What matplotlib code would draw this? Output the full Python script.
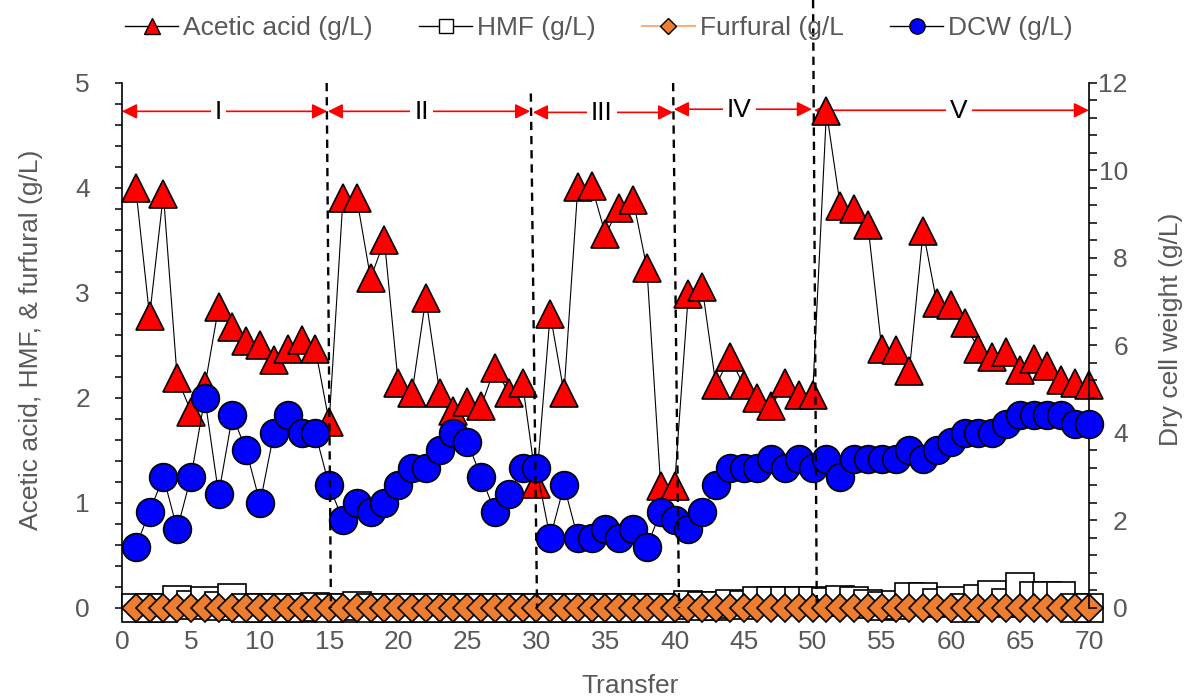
import matplotlib
matplotlib.use("Agg")
import matplotlib.pyplot as plt
from matplotlib.lines import Line2D
from matplotlib.ticker import MultipleLocator

plt.rcParams['font.family'] = ['Liberation Sans', 'DejaVu Sans']

# data, one value per transfer
transfer = list(range(1, 71))
acetic = [4.00, 2.78, 3.94, 2.19, 1.87, 2.11, 2.87, 2.68, 2.54, 2.50,
          2.36, 2.47, 2.55, 2.47, 1.77, 3.90, 3.90, 3.14, 3.50, 2.14,
          2.05, 2.95, 2.05, 1.88, 1.96, 1.92, 2.29, 2.05, 2.14, 1.18,
          2.80, 2.05, 4.01, 4.02, 3.56, 3.81, 3.89, 3.24, 1.16, 1.16,
          2.99, 3.06, 2.12, 2.39, 2.12, 2.00, 1.92, 2.14, 2.03, 2.03,
          4.73, 3.83, 3.80, 3.65, 2.47, 2.46, 2.26, 3.59, 2.90, 2.89,
          2.71, 2.47, 2.39, 2.44, 2.27, 2.37, 2.30, 2.17, 2.14, 2.12]
hmf = [0, 0, 0, 0.08, 0.03, 0.065, 0.02, 0.095, 0, 0,
       0, 0, 0, 0.01, 0, 0, 0.02, 0, 0, 0,
       0, 0, 0, 0, 0, 0, 0, 0, 0, 0,
       0, 0, 0, 0, 0, 0, 0, 0, 0, 0,
       0.025, 0.015, 0.02, 0.04, 0.03, 0.065, 0.065, 0.065, 0.065, 0.065,
       0.06, 0.08, 0.065, 0.04, 0.015, 0.03, 0.10, 0.10, 0.045, 0.065,
       0, 0.09, 0.12, 0.05, 0.20, 0.11, 0.11, 0.11, 0, 0]
furfural = [0] * 70
dcw = [1.4, 2.2, 3.0, 1.8, 3.0, 4.8, 2.6, 4.4, 3.6, 2.4,
       4.0, 4.4, 4.0, 4.0, 2.8, 2.0, 2.4, 2.2, 2.4, 2.8,
       3.2, 3.2, 3.6, 4.0, 3.8, 3.0, 2.2, 2.6, 3.2, 3.2,
       1.6, 2.8, 1.6, 1.6, 1.8, 1.6, 1.8, 1.4, 2.2, 2.0,
       1.8, 2.2, 2.8, 3.2, 3.2, 3.2, 3.4, 3.2, 3.4, 3.2,
       3.4, 3.0, 3.4, 3.4, 3.4, 3.4, 3.6, 3.4, 3.6, 3.8,
       4.0, 4.0, 4.0, 4.2, 4.4, 4.4, 4.4, 4.4, 4.2, 4.2]

# phases
phase_names = ['I', 'II', 'III', 'IV', 'V']
phase_start = [0, 14.9, 29.75, 39.95, 50.1]
phase_end = [14.85, 29.55, 39.9, 49.95, 70.0]
phase_y = [4.73, 4.73, 4.72, 4.75, 4.74]
phase_label_x = [7.0, 21.7, 34.75, 44.7, 60.6]
line_top_x = [14.82, 29.6, 39.9, 50.03]
line_bot_x = [15.13, 30.05, 40.33, 50.3]
line_top_y = [5.0, 4.9, 5.0, 5.79]

gray = '#595959'
fs = 19

fig = plt.figure(figsize=(11.84, 6.99), dpi=100)
ax = fig.add_axes([0.1030, 0.1302, 0.8167, 0.7511])
ax2 = ax.twinx()

ax.plot(transfer, acetic, color='black', lw=0.8, marker='^', ms=20,
        mfc='red', mec='black', mew=1.2, clip_on=False, zorder=3)
ax.plot(transfer, hmf, color='black', lw=0.8, marker='s', ms=20,
        mfc='white', mec='black', mew=1.2, clip_on=False, zorder=4)
ax.plot(transfer, furfural, color='#ED7D31', lw=0.8, marker='D', ms=14.2,
        mfc='#ED7D31', mec='black', mew=1.2, clip_on=False, zorder=5)
ax2.plot(transfer, dcw, color='black', lw=0.8, marker='o', ms=20,
         mfc='blue', mec='black', mew=1.2, clip_on=False, zorder=3)

# phase arrows and labels
for name, x0, x1, y, xl in zip(phase_names, phase_start, phase_end, phase_y, phase_label_x):
    ax.annotate('', xy=(x1, y), xytext=(x0, y), zorder=2,
                arrowprops=dict(arrowstyle='<|-|>,head_length=0.6,head_width=0.3',
                                color='red', lw=1.2, shrinkA=0, shrinkB=0,
                                mutation_scale=15))
    ax.text(xl, y - 0.01, name, ha='center', va='center', fontsize=fs, color='black',
            zorder=2, bbox=dict(fc='white', ec='none', pad=3))

# dashed boundaries between phases
for xt, xb, yt in zip(line_top_x, line_bot_x, line_top_y):
    ax2.plot([xt, xb], [yt * 12 / 5, 0], color='black', lw=1.7,
             ls=(0, (3.5, 2.5)), clip_on=False, zorder=6)

ax.set_xlim(0, 70)
ax.set_ylim(0, 5)
ax2.set_ylim(0, 12)

ax.set_xticks(range(0, 71, 5))
ax.tick_params(axis='x', length=0, pad=16, labelsize=fs, labelcolor=gray)
ax.set_yticks(range(0, 6))
ax.yaxis.set_minor_locator(MultipleLocator(0.2))
ax.tick_params(axis='y', which='both', direction='out', length=5, width=1.1,
               pad=18, labelsize=fs, labelcolor=gray)
ax2.set_yticks(range(0, 13, 2))
ax2.yaxis.set_minor_locator(MultipleLocator(0.4))
ax2.tick_params(axis='y', which='both', direction='out', length=6, width=1.1,
                pad=22, labelsize=fs, labelcolor=gray)
for lab in ax2.get_yticklabels():
    lab.set_horizontalalignment('right')

for s in ['top', 'bottom', 'right']:
    ax.spines[s].set_visible(False)
for s in ['top', 'bottom', 'left']:
    ax2.spines[s].set_visible(False)
ax.spines['left'].set_linewidth(1.2)
ax2.spines['right'].set_linewidth(1.2)

ax.set_xlabel('Transfer', fontsize=fs, color=gray)
ax.xaxis.set_label_coords(0.525, -0.125)
ax.set_ylabel('Acetic acid, HMF, & furfural (g/L)', fontsize=fs, color=gray)
ax.yaxis.set_label_coords(-0.082, 0.51)
ax2.set_ylabel('Dry cell weight (g/L)', fontsize=fs, color=gray)
ax2.yaxis.set_label_coords(1.072, 0.53)

handles = [
    Line2D([], [], color='black', lw=1, marker='^', ms=11, mfc='red', mec='black'),
    Line2D([], [], color='black', lw=1, marker='s', ms=10, mfc='white', mec='black'),
    Line2D([], [], color='#F4B183', lw=1.5, marker='D', ms=8, mfc='#ED7D31', mec='black'),
    Line2D([], [], color='black', lw=1, marker='o', ms=11, mfc='blue', mec='black'),
]
labels = ['Acetic acid (g/L)', 'HMF (g/L)', 'Furfural (g/L', 'DCW (g/L)']
leg = fig.legend(handles, labels, loc='center', bbox_to_anchor=(0.506, 0.96),
                 ncol=4, frameon=False, fontsize=fs, handlelength=2.0,
                 handletextpad=0.2, columnspacing=1.75)
for t in leg.get_texts():
    t.set_color(gray)

fig.savefig('out.png', dpi=100)
